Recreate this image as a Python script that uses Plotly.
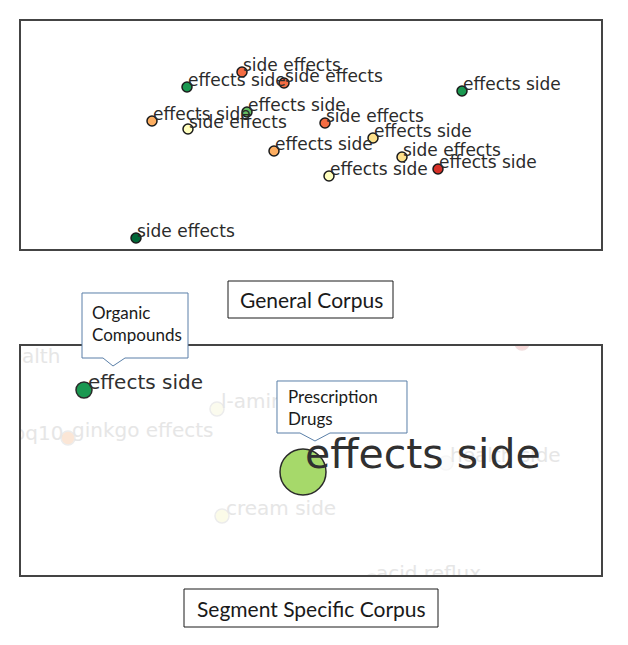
import plotly.graph_objects as go

# The page body has an 8px margin, so the figure is sized to fit inside it.
OFF = 8
W, H = 612, 629

# ---------- General corpus (top panel), coordinates in panel units ----------
gen_x = [221, 166, 263, 226, 131, 167, 253, 115, 441, 304, 352, 381, 417, 308]
gen_y = [51, 66, 62, 91, 100, 108, 130, 217, 70, 102, 117, 136, 148, 155]
gen_labels = ["side effects", "effects side", "side effects", "effects side",
              "effects side", "side effects", "effects side", "side effects",
              "effects side", "side effects", "effects side", "side effects",
              "effects side", "effects side"]
gen_colors = ["#f46d43", "#1a9850", "#f46d43", "#66bd63", "#fdae61", "#ffffbf",
              "#fdae61", "#006837", "#1a9850", "#f46d43", "#fee08b", "#fee08b",
              "#d73027", "#ffffbf"]

# ---------- Segment specific corpus (bottom panel) ----------
seg_x = [63, 282]
seg_y = [44, 126]
seg_labels = ["effects side", "effects side"]
seg_sizes = [16, 46]
seg_colors = ["#1a9850", "#a6d96a"]
seg_font = [20, 41]

faint_x = [-28, -23, 47, 196, 201, 351, 501, 425]
faint_y = [18, 95, 92, 63, 170, 235, -3, 117]
faint_labels = ["health", "coq10", "ginkgo effects", "l-amino", "cream side",
                "acid reflux", "", "health side"]
faint_colors = ["#f3f3f3", "#f3f3f3", "#fbe6d6", "#fbfbee", "#fbfbe8",
                "#eef5e6", "#f7d9d9", "#fbfbfb"]
faint_lines = ["#ececec", "#ececec", "#ececec", "#ececec", "#ececec",
               "#ececec", "#f2dede", "#f6f6f6"]

fig = go.Figure()

# top panel
fig.add_trace(go.Scatter(
    x=gen_x, y=gen_y, mode="markers", xaxis="x", yaxis="y",
    marker=dict(size=10, color=gen_colors, opacity=1,
                line=dict(color="#1a1a1a", width=1.5)),
    hoverinfo="skip", showlegend=False))
fig.add_trace(go.Scatter(
    x=[v + 1 for v in gen_x], y=[v - 5 for v in gen_y], mode="text",
    text=gen_labels, textposition="middle right", xaxis="x", yaxis="y",
    textfont=dict(family="DejaVu Sans", size=17, color="#2b2b2b"),
    hoverinfo="skip", showlegend=False, cliponaxis=True))

# bottom panel: faint background words
fig.add_trace(go.Scatter(
    x=faint_x, y=faint_y, mode="markers", xaxis="x2", yaxis="y2",
    marker=dict(size=14, color=faint_colors, opacity=1,
                line=dict(color=faint_lines, width=1.5)),
    hoverinfo="skip", showlegend=False, cliponaxis=True))
fig.add_trace(go.Scatter(
    x=[v + 4 for v in faint_x], y=[v - 6 for v in faint_y], mode="text",
    text=faint_labels, textposition="middle right", xaxis="x2", yaxis="y2",
    textfont=dict(family="DejaVu Sans", size=20, color="#e6e6e6"),
    hoverinfo="skip", showlegend=False, cliponaxis=True))

# bottom panel: highlighted words
fig.add_trace(go.Scatter(
    x=seg_x, y=seg_y, mode="markers", xaxis="x2", yaxis="y2",
    marker=dict(size=seg_sizes, color=seg_colors, opacity=1,
                line=dict(color="#2a2a2a", width=1.5)),
    hoverinfo="skip", showlegend=False))
fig.add_trace(go.Scatter(
    x=[seg_x[0] + 4, seg_x[1] + 2], y=[seg_y[0] - 6, seg_y[1] - 14], mode="text",
    text=seg_labels, textposition="middle right", xaxis="x2", yaxis="y2",
    textfont=dict(family="DejaVu Sans", size=seg_font, color="#303030"),
    hoverinfo="skip", showlegend=False, cliponaxis=True))


def px(x):
    return (x - OFF) / W


def py(y):
    return 1 - (y - OFF) / H


ax_common = dict(showgrid=False, zeroline=False, showticklabels=False, ticks="",
                 showline=True, mirror=True, linecolor="#444444", linewidth=1.5,
                 fixedrange=True)

fig.update_layout(
    width=W, height=H, margin=dict(l=0, r=0, t=0, b=0),
    paper_bgcolor="white", plot_bgcolor="white", showlegend=False,
    xaxis=dict(domain=[px(21), px(601)], range=[0, 580], **ax_common),
    yaxis=dict(domain=[py(249), py(21)], range=[228, 0], **ax_common),
    xaxis2=dict(domain=[px(21), px(601)], range=[0, 580], anchor="y2", **ax_common),
    yaxis2=dict(domain=[py(575), py(346)], range=[229, 0], anchor="x2", **ax_common),
)


def path(points):
    return "M " + " L ".join(f"{px(a):.5f},{py(b):.5f}" for a, b in points) + " Z"


callout_color = "#5a7fa8"
shapes = [
    dict(type="path", xref="paper", yref="paper",
         path=path([(82, 293), (188, 293), (188, 358), (125, 358), (113, 366),
                    (103, 358), (82, 358)]),
         line=dict(color=callout_color, width=1), fillcolor="white"),
    dict(type="path", xref="paper", yref="paper",
         path=path([(277, 381), (407, 381), (407, 433), (330, 433), (315, 441),
                    (300, 433), (277, 433)]),
         line=dict(color=callout_color, width=1), fillcolor="white"),
    dict(type="rect", xref="paper", yref="paper",
         x0=px(228), x1=px(393), y0=py(318), y1=py(281),
         line=dict(color="#1a1a1a", width=1), fillcolor="white"),
    dict(type="rect", xref="paper", yref="paper",
         x0=px(184), x1=px(438), y0=py(627), y1=py(589),
         line=dict(color="#1a1a1a", width=1), fillcolor="white"),
]
fig.update_layout(shapes=shapes)

box_font = dict(family="Lato", size=17, color="#1a1a1a")
fig.add_annotation(xref="paper", yref="paper", x=px(90), y=py(324),
                   xanchor="left", yanchor="middle", align="left",
                   text="Organic<br>Compounds", showarrow=False, font=box_font)
fig.add_annotation(xref="paper", yref="paper", x=px(286), y=py(407),
                   xanchor="left", yanchor="middle", align="left",
                   text="Prescription<br>Drugs", showarrow=False, font=box_font)
fig.add_annotation(xref="paper", yref="paper", x=px(311), y=py(299),
                   xanchor="center", yanchor="middle",
                   text="General Corpus", showarrow=False,
                   font=dict(family="Lato", size=21, color="#1a1a1a"))
fig.add_annotation(xref="paper", yref="paper", x=px(311), y=py(608),
                   xanchor="center", yanchor="middle",
                   text="Segment Specific Corpus", showarrow=False,
                   font=dict(family="Lato", size=21, color="#1a1a1a"))

fig.write_html("out.html")
